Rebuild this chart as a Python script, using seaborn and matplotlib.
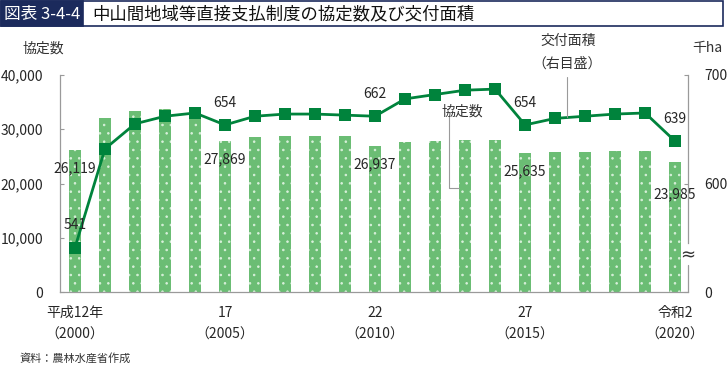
import numpy as np
import matplotlib
matplotlib.use("Agg")
import matplotlib.pyplot as plt
import seaborn as sns
from matplotlib.patches import Rectangle
from matplotlib.lines import Line2D

# -----------------------------
# Data
# -----------------------------
years = list(range(2000, 2021))
counts = [26119, 32000, 33400, 33700, 33800, 27869, 28600, 28800, 28800, 28800,
          26937, 27600, 27870, 28100, 28100, 25635, 25800, 25850, 25900, 25900, 23985]
area = [541, 632, 655, 662, 665, 654, 662, 664, 664, 663,
        662, 678, 682, 686, 687, 654, 660, 662, 664, 665, 639]

tick_pos = [0, 5, 10, 15, 20]
tick_labels = ["平成12年\n（2000）", "17\n（2005）", "22\n（2010）", "27\n（2015）", "令和2\n（2020）"]

count_labels = {0: "26,119", 5: "27,869", 10: "26,937", 15: "25,635", 20: "23,985"}
area_labels = {0: "541", 5: "654", 10: "662", 15: "654", 20: "639"}
count_label_offset = {0: -18, 5: -18, 10: -18, 15: -18, 20: -32}  # px below bar top

BAR = "#6bbd74"
DOT = "#d9f0db"
LINE = "#00833c"
GRAY = "#9a9a9a"
NAVY = "#1b2a5c"

sns.set_style("white")
plt.rcParams["font.family"] = ["Noto Sans CJK JP", "DejaVu Sans"]
plt.rcParams["hatch.color"] = DOT
plt.rcParams["hatch.linewidth"] = 0.6

fig = plt.figure(figsize=(7.27, 3.67), dpi=100)
ax = fig.add_axes([60 / 727, 75 / 367, 628 / 727, 217 / 367])

# -----------------------------
# Bars (協定数)
# -----------------------------
sns.barplot(x=years, y=counts, ax=ax, color=BAR, saturation=1, width=0.4,
            edgecolor=DOT, linewidth=0)
for p in ax.patches:
    p.set_hatch("..")
ax.set_xlim(-0.5, 20.43)
ax.set_ylim(0, 40000)
ax.set_yticks([0, 10000, 20000, 30000, 40000])
ax.set_yticklabels(["0", "10,000", "20,000", "30,000", "40,000"], fontsize=10)
ax.set_xticks(tick_pos)
ax.set_xticklabels(tick_labels, fontsize=10, linespacing=1.75)
ax.tick_params(axis="x", length=0, pad=10)
ax.tick_params(axis="y", direction="in", length=3, color=GRAY, pad=12)
for s in ["top", "right"]:
    ax.spines[s].set_visible(False)
for s in ["left", "bottom"]:
    ax.spines[s].set_color(GRAY)
    ax.spines[s].set_linewidth(0.9)
ax.set_xlabel("")
ax.set_ylabel("")

for i, txt in count_labels.items():
    ax.annotate(txt, (i, counts[i]), xytext=(0, count_label_offset[i] * 0.72),
                textcoords="offset points", ha="center", va="center", fontsize=10)

# -----------------------------
# Line (交付面積, right axis)
# -----------------------------
ax2 = ax.twinx()
sns.lineplot(x=np.arange(len(years)), y=area, ax=ax2, color=LINE, linewidth=2,
             marker="s", markersize=8, markeredgewidth=0, markerfacecolor=LINE)
ax2.set_ylim(500, 700)
ax2.set_xlim(-0.5, 20.43)
ax2.set_yticks([500, 600, 700])
ax2.set_yticklabels(["0", "600", "700"], fontsize=10)
ax2.tick_params(axis="y", direction="in", length=3, color=GRAY, pad=12)
for s in ["top", "left", "bottom"]:
    ax2.spines[s].set_visible(False)
ax2.spines["right"].set_color(GRAY)
ax2.spines["right"].set_linewidth(0.9)
ax2.spines["right"].set_bounds(545, 700)
ax2.add_line(Line2D([1, 1], [0, 0.125], transform=ax2.transAxes, color=GRAY,
                    linewidth=0.9, clip_on=False))
ax2.text(1.0, 0.17, "≈", transform=ax2.transAxes, ha="center", va="center",
         fontsize=13, color="#333333", family="DejaVu Sans")

for i, txt in area_labels.items():
    ax2.annotate(txt, (i, area[i]), xytext=(0, 16), textcoords="offset points",
                 ha="center", va="center", fontsize=10)

# leader: 協定数
ax.plot([12.47, 12.47, 12.8], [32400, 19180, 19180], color=GRAY, linewidth=0.8)
ax.text(12.9, 33330, "協定数", ha="center", va="center", fontsize=10, color="#333333")

# leader: 交付面積（右目盛）
ax2.plot([16.4, 16.4], [661.5, 698], color=GRAY, linewidth=0.8, clip_on=False)
ax2.text(16.45, 731, "交付面積", ha="center", va="center", fontsize=10,
         color="#333333", clip_on=False)
ax2.text(16.4, 710, "（右目盛）", ha="center", va="center", fontsize=10,
         color="#333333", clip_on=False)

# axis titles
fig.text(22 / 727, 1 - 49 / 367, "協定数", ha="left", va="center", fontsize=10, color="#333333")
fig.text(692 / 727, 1 - 48 / 367, "千ha", ha="left", va="center", fontsize=10, color="#333333")

# -----------------------------
# Title bar and source
# -----------------------------
fig.patches.append(Rectangle((1 / 727, 1 - 26 / 367), 722 / 727, 25 / 367,
                             transform=fig.transFigure, facecolor="white",
                             edgecolor=NAVY, linewidth=1.2))
fig.patches.append(Rectangle((1 / 727, 1 - 26 / 367), 82 / 727, 25 / 367,
                             transform=fig.transFigure, facecolor=NAVY,
                             edgecolor=NAVY, linewidth=1.2))
fig.text(4 / 727, 1 - 14 / 367, "図表 3-4-4", ha="left", va="center",
         fontsize=12, color="white")
fig.text(92 / 727, 1 - 14 / 367, "中山間地域等直接支払制度の協定数及び交付面積",
         ha="left", va="center", fontsize=12.5, color="#111111")
fig.text(20 / 727, 1 - 358 / 367, "資料：農林水産省作成", ha="left", va="center",
         fontsize=8, color="#333333")

plt.savefig("out.png", dpi=100)
plt.close()
